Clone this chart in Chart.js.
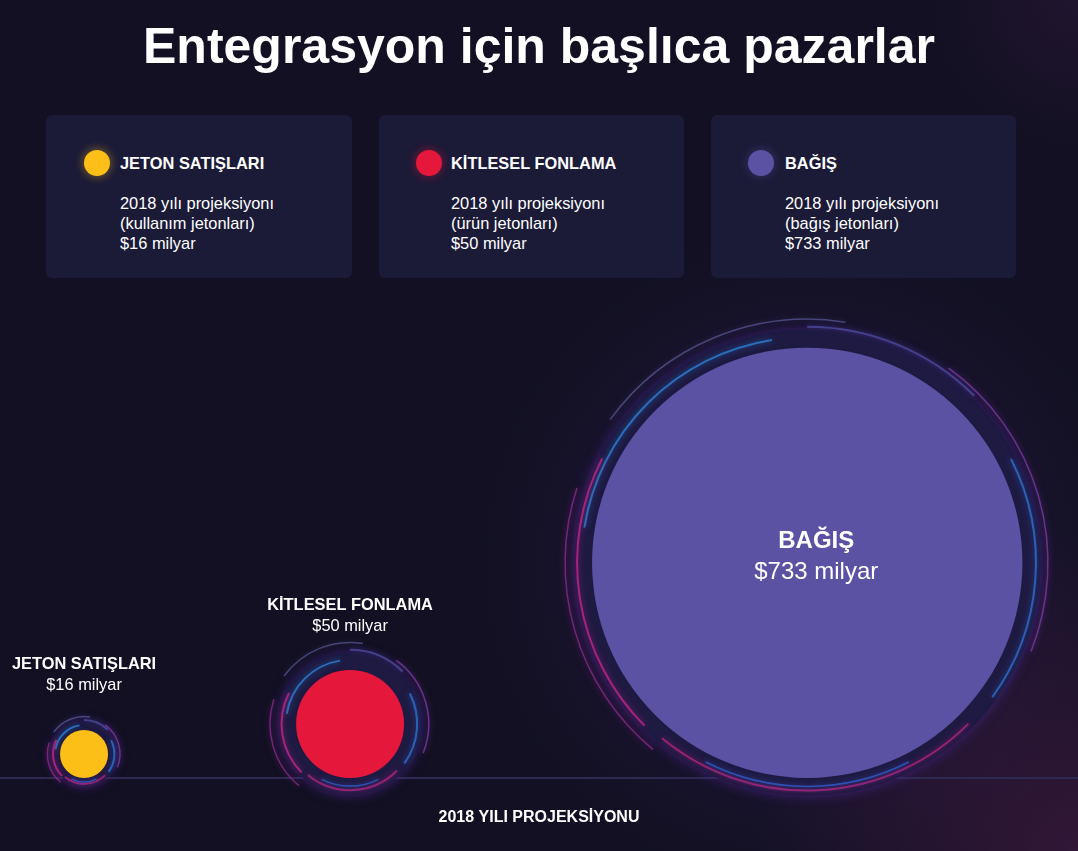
<!DOCTYPE html>
<html lang="tr">
<head>
<meta charset="utf-8">
<script src="https://cdn.jsdelivr.net/npm/chart.js@4"></script>
<style>
  html, body { margin: 0; padding: 0; background: #121022; }
  #wrap {
    position: relative; width: 1078px; height: 851px; overflow: hidden;
    font-family: "Liberation Sans", Arial, Helvetica, sans-serif; color: #fff;
    background:
      radial-gradient(circle at 1078px 851px, rgba(110,35,95,0.35) 0, rgba(110,35,95,0) 320px),
      radial-gradient(circle at 806px 564px, rgba(55,35,95,0.45) 0, rgba(55,35,95,0) 340px),
      radial-gradient(circle at 1078px 0px, rgba(60,30,70,0.35) 0, rgba(60,30,70,0) 160px),
      #121022;
  }
  #chart { position: absolute; left: 0; top: 0; }
  #title {
    position: absolute; left: 0; top: 21px; width: 1078px; text-align: center;
    font-size: 50px; line-height: 50px; font-weight: bold; white-space: nowrap;
  }
  .card {
    position: absolute; top: 115px; width: 306px; height: 163px;
    background: #1b1a37; border-radius: 6px; z-index: 2;
  }
  .card .dot {
    position: absolute; top: 35px; width: 26px; height: 26px; border-radius: 50%;
  }
  .card .name {
    position: absolute; top: 38px; font-size: 16.4px; line-height: 20px; font-weight: bold; white-space: nowrap;
  }
  .card .desc {
    position: absolute; top: 78px; font-size: 16.4px; line-height: 20px; white-space: nowrap;
  }
</style>
</head>
<body>
<div id="wrap">
  <canvas id="chart" width="1078" height="851"></canvas>
  <div id="title"></div>
  <div id="cards"></div>
</div>
<script>
// ---- data ----
const chartTitle = 'Entegrasyon için başlıca pazarlar';
const categories = ['JETON SATIŞLARI', 'KİTLESEL FONLAMA', 'BAĞIŞ'];
const values = [16, 50, 733];                 // milyar $
const valueLabels = ['$16 milyar', '$50 milyar', '$733 milyar'];
const tokenTypes = ['(kullanım jetonları)', '(ürün jetonları)', '(bağış jetonları)'];
const projectionLine = '2018 yılı projeksiyonı';
const axisTitle = '2018 YILI PROJEKSİYONU';
const colors = ['#fcbf17', '#e5173a', '#5b52a3'];

// ---- html parts: title + cards ----
document.getElementById('title').textContent = chartTitle;
const cardsEl = document.getElementById('cards');
const cardLeft = [46, 379, 711];
const dotLeft = [38, 37, 37];
const textLeft = [74, 72, 74];
categories.forEach((c, i) => {
  const card = document.createElement('div');
  card.className = 'card';
  card.style.left = cardLeft[i] + 'px';
  card.style.width = (i === 0 ? 306 : 305) + 'px';
  const dot = document.createElement('div');
  dot.className = 'dot';
  dot.style.left = dotLeft[i] + 'px';
  dot.style.background = colors[i];
  dot.style.boxShadow = '0 0 8px 2px ' + colors[i] + '55';
  const nm = document.createElement('div');
  nm.className = 'name'; nm.textContent = c; nm.style.left = textLeft[i] + 'px';
  const ds = document.createElement('div');
  ds.className = 'desc'; ds.style.left = textLeft[i] + 'px';
  [projectionLine, tokenTypes[i], valueLabels[i]].forEach(t => {
    const l = document.createElement('div'); l.textContent = t; ds.appendChild(l);
  });
  card.append(dot, nm, ds);
  cardsEl.appendChild(card);
});

// ---- bubble layout: radius scale from value, packed left to right on a baseline ----
const radiusOf = v => 16.15 * Math.pow(v, 0.41) - 26.3;
const PLOT_TOP = 300, BASELINE = 778, W = 1078;
const startX = 60, gap = 188;
let cursor = startX;
const bubbles = values.map((v, i) => {
  const r = radiusOf(v);
  const p = { x: cursor + r, y: r, r: r, v: v };
  cursor += 2 * r + gap;
  return p;
});

// ---- decorative glow rings ----
const ringPlugin = {
  id: 'rings',
  beforeDatasetsDraw(chart) {
    const ctx = chart.ctx;
    const meta = chart.getDatasetMeta(0);
    meta.data.forEach((el, i) => {
      const r = bubbles[i].r;
      const d = Math.min(30, 0.5 * r + 2);
      const cx = el.x, cy = el.y;
      ctx.save();
      ctx.beginPath();
      ctx.arc(cx, cy, r + 0.3 * d, 0, Math.PI * 2);
      ctx.strokeStyle = 'rgba(30,26,64,0.95)';
      ctx.lineWidth = 0.6 * d;
      ctx.shadowColor = 'rgba(70,40,140,0.8)';
      ctx.shadowBlur = 12;
      ctx.stroke();
      const arcs = [
        { o: 0.35, a: 1.05, b: 1.45, c: 'rgba(42,127,212,0.8)', w: 2 },
        { o: 0.5,  a: 0.75, b: 1.15, c: 'rgba(194,38,138,0.8)', w: 2 },
        { o: 0.42, a: 0.25, b: 0.72, c: 'rgba(179,35,126,0.8)', w: 2 },
        { o: 0.28, a: 0.35, b: 0.65, c: 'rgba(46,95,207,0.8)', w: 1.5 },
        { o: 0.45, a: -0.15, b: 0.2, c: 'rgba(47,111,208,0.8)', w: 2 },
        { o: 0.95, a: 1.2, b: 1.55, c: 'rgba(120,120,200,0.5)', w: 1.5 },
        { o: 0.85, a: -0.3, b: 0.12, c: 'rgba(122,58,160,0.8)', w: 1.5 },
        { o: 0.9,  a: 0.72, b: 1.1, c: 'rgba(138,42,138,0.8)', w: 1.5 },
        { o: 0.7,  a: 1.5, b: 1.75, c: 'rgba(90,90,190,0.6)', w: 2 }
      ];
      arcs.forEach(s => {
        ctx.beginPath();
        ctx.arc(cx, cy, r + s.o * d, s.a * Math.PI, s.b * Math.PI);
        ctx.strokeStyle = s.c;
        ctx.lineWidth = s.w;
        ctx.shadowColor = s.c;
        ctx.shadowBlur = 6;
        ctx.stroke();
      });
      ctx.restore();
    });
  }
};

// ---- labels ----
const labelPlugin = {
  id: 'bubbleLabels',
  afterDatasetsDraw(chart) {
    const ctx = chart.ctx;
    const meta = chart.getDatasetMeta(0);
    ctx.save();
    ctx.fillStyle = '#ffffff';
    ctx.textAlign = 'center';
    ctx.textBaseline = 'middle';
    meta.data.forEach((el, i) => {
      const r = bubbles[i].r;
      if (r > 100) {
        ctx.font = 'bold 24px "Liberation Sans", Arial, sans-serif';
        ctx.fillText(categories[i], el.x + 9, el.y - 21);
        ctx.font = '24px "Liberation Sans", Arial, sans-serif';
        ctx.fillText(valueLabels[i], el.x + 9, el.y + 10);
      } else {
        const vy = el.y - r - 44;
        ctx.font = 'bold 16.4px "Liberation Sans", Arial, sans-serif';
        ctx.fillText(categories[i], el.x, vy - 21);
        ctx.font = '16.4px "Liberation Sans", Arial, sans-serif';
        ctx.fillText(valueLabels[i], el.x, vy);
      }
    });
    ctx.restore();
  }
};

new Chart(document.getElementById('chart'), {
  type: 'bubble',
  data: {
    labels: categories,
    datasets: [{
      data: bubbles,
      backgroundColor: colors,
      borderWidth: 0,
      hoverBorderWidth: 0,
      hoverRadius: 0,
      clip: false
    }]
  },
  options: {
    responsive: false,
    animation: false,
    events: [],
    layout: { autoPadding: false, padding: { top: PLOT_TOP, left: 0, right: 0, bottom: 24 } },
    plugins: { legend: { display: false }, tooltip: { enabled: false }, title: { display: false } },
    scales: {
      x: {
        type: 'linear', min: 0, max: W,
        grid: { display: false, drawTicks: false },
        ticks: { display: false },
        border: { display: true, color: '#2d2a52', width: 2 },
        title: {
          display: true, text: axisTitle, color: '#ffffff',
          font: { family: '"Liberation Sans", Arial, sans-serif', size: 16, weight: 'bold', lineHeight: 1.2 },
          padding: { top: 29.8, bottom: 0 }
        }
      },
      y: {
        type: 'linear', min: 0, max: BASELINE - PLOT_TOP, display: false
      }
    }
  },
  plugins: [ringPlugin, labelPlugin]
});
</script>
</body>
</html>
